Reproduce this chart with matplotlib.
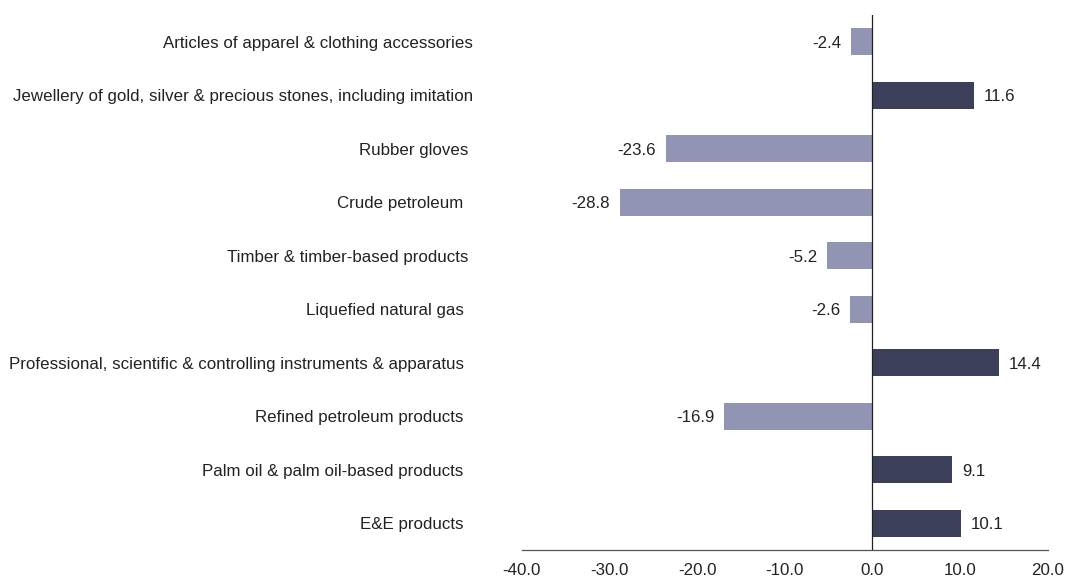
import matplotlib.pyplot as plt
import numpy as np

plt.rcParams['font.family'] = ['Liberation Sans', 'DejaVu Sans']

# export categories (top to bottom) and annual change, %
categories = ['Articles of apparel & clothing accessories',
              'Jewellery of gold, silver & precious stones, including imitation',
              'Rubber gloves ',
              'Crude petroleum  ',
              'Timber & timber-based products ',
              'Liquefied natural gas  ',
              'Professional, scientific & controlling instruments & apparatus  ',
              'Refined petroleum products  ',
              'Palm oil & palm oil-based products  ',
              'E&E products  ']
change_pct = [-2.4, 11.6, -23.6, -28.8, -5.2, -2.6, 14.4, -16.9, 9.1, 10.1]
xticks = [-40, -30, -20, -10, 0, 10, 20]

DARK = '#3b3f5a'
LIGHT = '#9195b3'
FS = 12.15

fig = plt.figure(figsize=(10.67, 5.79), dpi=100)
ax = fig.add_axes([0.489, 0.050, 0.493, 0.924])

y = np.arange(len(categories))
colors = [DARK if v >= 0 else LIGHT for v in change_pct]
ax.barh(y, change_pct, height=0.5, color=colors, zorder=2)

for yi, v in zip(y, change_pct):
    off = 7 if v >= 0 else -7
    ax.annotate(f'{v:.1f}', (v, yi), xytext=(off, -1), textcoords='offset points',
                ha='left' if v >= 0 else 'right', va='center', fontsize=FS, color='#222222')

ax.axvline(0, color='#222222', lw=0.9, zorder=3)

ax.set_xlim(-40, 20)
ax.set_ylim(len(categories) - 0.5, -0.5)
ax.set_xticks(xticks)
ax.set_xticklabels([f'{t:.1f}' for t in xticks], fontsize=FS, color='#222222')
ax.set_yticks(y)
ax.set_yticklabels(categories, fontsize=FS, color='#222222')
ax.tick_params(axis='y', length=0, pad=35)
ax.tick_params(axis='x', length=0, pad=9)

for s in ['top', 'right', 'left']:
    ax.spines[s].set_visible(False)
ax.spines['bottom'].set_color('#555555')
ax.spines['bottom'].set_linewidth(0.9)

fig.savefig('out.png', dpi=100)
